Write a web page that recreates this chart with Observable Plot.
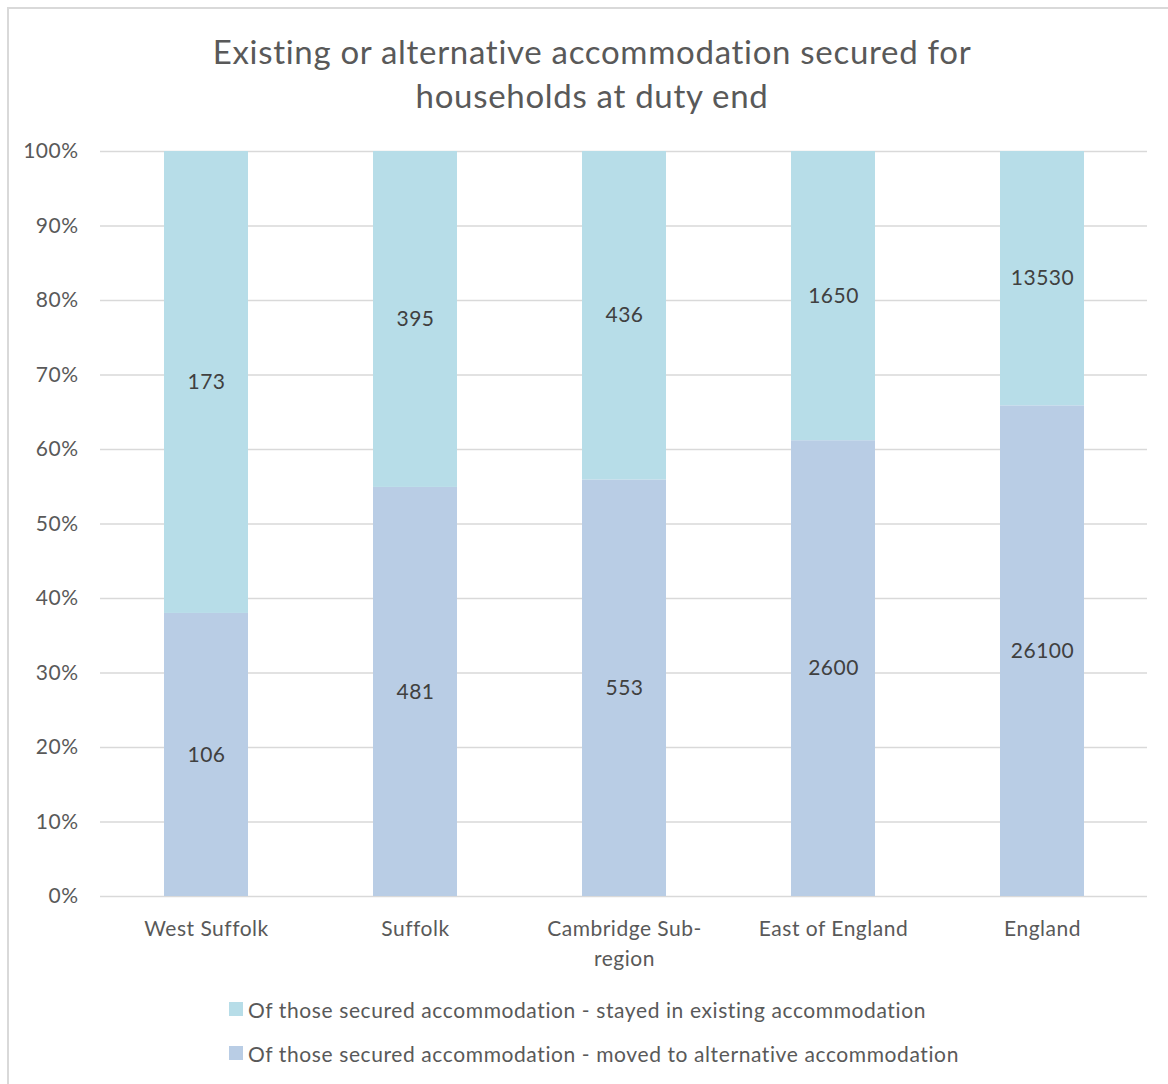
<!DOCTYPE html>
<html>
<head>
<meta charset="utf-8">
<script src="https://cdn.jsdelivr.net/npm/d3@7"></script>
<script src="https://cdn.jsdelivr.net/npm/@observablehq/plot@0.6"></script>
<style>
  html, body { margin: 0; padding: 0; background: #fff; }
  body { width: 1168px; height: 1084px; position: relative; overflow: hidden; font-family: Lato, "Open Sans", sans-serif; }
  #frame { position: absolute; left: 7px; top: 7px; width: 1250px; height: 1200px; border: 2px solid #d9d9d9; box-sizing: border-box; }
  #title { position: absolute; left: 0; top: 29px; width: 1184px; text-align: center; font-size: 33px; letter-spacing: 0.7px; line-height: 44px; color: #595959; }
  #chart { position: absolute; left: 0; top: 130px; }
  #chart svg text { letter-spacing: 0.5px; }
  #legend { position: absolute; left: 229px; top: 994px; font-size: 21px; letter-spacing: 0.6px; color: #595959; }
  .item { display: flex; align-items: center; height: 30px; margin-bottom: 14px; white-space: nowrap; }
  .sw { width: 14px; height: 14px; margin-right: 5px; flex: none; }
</style>
</head>
<body>
<div id="frame"></div>
<div id="title">Existing or alternative accommodation secured for<br>households at duty end</div>
<div id="chart"></div>
<div id="legend"></div>
<script>
const categories = ["West Suffolk", "Suffolk", "Cambridge Sub-region", "East of England", "England"];
const stayedValues = [173, 395, 436, 1650, 13530];
const movedValues = [106, 481, 553, 2600, 26100];
const seriesNames = [
  "Of those secured accommodation - moved to alternative accommodation",
  "Of those secured accommodation - stayed in existing accommodation"
];
const seriesColors = ["#b9cde5", "#b7dde8"];
const yTicks = [0, 0.1, 0.2, 0.3, 0.4, 0.5, 0.6, 0.7, 0.8, 0.9, 1.0];

const rows = [];
categories.forEach((c, i) => {
  rows.push({category: c, series: seriesNames[0], value: movedValues[i]});
  rows.push({category: c, series: seriesNames[1], value: stayedValues[i]});
});

const stackOpts = {x: "category", y: "value", z: "series", offset: "normalize", order: seriesNames};

const chart = Plot.plot({
  width: 1168,
  height: 850,
  marginLeft: 100,
  marginRight: 21,
  marginTop: 21,
  marginBottom: 84,
  style: {fontFamily: "Lato, 'Open Sans', sans-serif", fontSize: "21px", color: "#595959", background: "transparent"},
  x: {domain: categories, paddingInner: 0.6, paddingOuter: 0.3, label: null},
  y: {domain: [0, 1], label: null},
  color: {domain: seriesNames, range: seriesColors},
  marks: [
    Plot.ruleY(yTicks, {stroke: "#d9d9d9", strokeWidth: 1.5}),
    Plot.barY(rows, Plot.stackY({...stackOpts, fill: "series"})),
    Plot.text(rows, Plot.stackY({...stackOpts, text: d => String(d.value), fill: "#404040", fontSize: 21})),
    Plot.axisY({ticks: yTicks, tickSize: 0, tickPadding: 22, tickFormat: d3.format(".0%"), fontSize: 21, label: null}),
    Plot.axisX({tickSize: 0, tickPadding: 19, fontSize: 21, lineHeight: 1.4,
      tickFormat: d => d.replace("Sub-region", "Sub-\nregion"), label: null})
  ]
});
document.getElementById("chart").appendChild(chart);

const legend = document.getElementById("legend");
[1, 0].forEach(i => {
  const item = document.createElement("div");
  item.className = "item";
  const sw = document.createElement("span");
  sw.className = "sw";
  sw.style.background = seriesColors[i];
  const t = document.createElement("span");
  t.textContent = seriesNames[i];
  item.appendChild(sw);
  item.appendChild(t);
  legend.appendChild(item);
});
</script>
</body>
</html>
